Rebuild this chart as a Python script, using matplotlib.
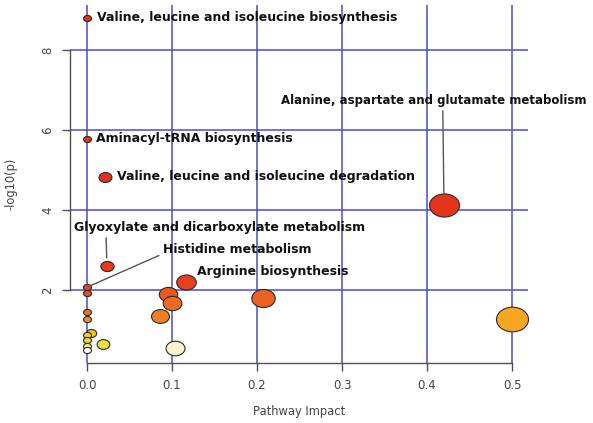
import numpy as np
import matplotlib
matplotlib.use("Agg")
import matplotlib.pyplot as plt
from matplotlib.path import Path
from matplotlib.colors import LinearSegmentedColormap

# Pathway topology results: impact (x) and -log10(p) (y)
impact = [0.0, 0.0, 0.021, 0.42, 0.0235, 0.116, 0.0, 0.0, 0.095, 0.207, 0.10,
          0.0, 0.086, 0.0, 0.50, 0.005, 0.0, 0.0, 0.019, 0.0, 0.104, 0.0]
neglogp = [8.80, 5.78, 4.83, 4.12, 2.60, 2.20, 2.07, 1.93, 1.90, 1.80, 1.67,
           1.45, 1.35, 1.28, 1.28, 0.93, 0.875, 0.75, 0.65, 0.60, 0.55, 0.50]

# Labelled pathways: index into the arrays above
label_names = [
    "Valine, leucine and isoleucine biosynthesis",
    "Aminacyl-tRNA biosynthesis",
    "Valine, leucine and isoleucine degradation",
    "Alanine, aspartate and glutamate metabolism",
    "Glyoxylate and dicarboxylate metabolism",
    "Histidine metabolism",
    "Arginine biosynthesis",
]
label_index = [0, 1, 2, 3, 4, 6, 5]

x_ticks = [0.0, 0.1, 0.2, 0.3, 0.4, 0.5]
y_ticks = [2, 4, 6, 8]

x = np.array(impact)
y = np.array(neglogp)
n = len(x)

# colour by significance rank (heat-style palette)
heat = LinearSegmentedColormap.from_list("heat", [
    (0.00, "#E22F1C"), (0.15, "#E3341C"), (0.30, "#E64A1E"),
    (0.45, "#EC6620"), (0.60, "#F08424"), (0.667, "#F5A623"),
    (0.714, "#F5C31B"), (0.80, "#F0DA1E"), (0.86, "#EDE040"),
    (0.905, "#F2EC9A"), (0.952, "#F8F5CC"), (1.00, "#FBFAEE")])
order = np.argsort(-y, kind="stable")
rank = np.empty(n)
rank[order] = np.arange(n)
colors = heat(rank / (n - 1))

# marker width grows with pathway impact
width_px = 8 + 34 * np.sqrt(x)
dpi = 100
sizes = (width_px * 72 / dpi) ** 2

# slightly wide ellipse marker
circ = Path.unit_circle()
verts = circ.vertices.copy()
verts[:, 1] /= 1.3
ellipse = Path(verts, circ.codes)

fig = plt.figure(figsize=(5.93, 4.23), dpi=dpi)
ax = fig.add_axes([70 / 593, 60 / 423, 458 / 593, 358 / 423])
ax.set_xlim(-0.02, 0.5188)
ax.set_ylim(0.175, 9.125)

grid_col = "#4B4BC6"
for xv in x_ticks:
    ax.axvline(xv, color=grid_col, lw=1.1, zorder=1)
for yv in y_ticks:
    ax.axhline(yv, color=grid_col, lw=1.1, zorder=1)

for i in order:
    ax.scatter(x[i], y[i], s=sizes[i], marker=ellipse, c=[colors[i]],
               edgecolors="#2a2a2a", linewidths=0.8, zorder=3)

# axes in R style: spines only across the tick range
for side in ("top", "right"):
    ax.spines[side].set_visible(False)
ax.spines["left"].set_bounds(min(y_ticks), max(y_ticks))
ax.spines["bottom"].set_bounds(min(x_ticks), max(x_ticks))
for side in ("left", "bottom"):
    ax.spines[side].set_color("#505050")
    ax.spines[side].set_linewidth(1.0)

ax.set_xticks(x_ticks)
ax.set_xticklabels([f"{v:.1f}" for v in x_ticks])
ax.set_yticks(y_ticks)
ax.set_yticklabels([str(v) for v in y_ticks])
ax.tick_params(axis="both", colors="#505050", labelcolor="#444444",
               labelsize=8.5, length=5.5, width=1.0)
ax.tick_params(axis="x", pad=6)
ax.tick_params(axis="y", pad=6)
for lab in ax.get_yticklabels():
    lab.set_rotation(90)
    lab.set_va("center")

ax.set_xlabel("Pathway Impact", fontsize=8.3, color="#444444")
ax.set_ylabel("-log10(p)", fontsize=8.3, color="#444444")
ax.xaxis.set_label_coords(0.5, -0.117)
ax.yaxis.set_label_coords(-0.114, 0.5)

txt = dict(fontsize=9, fontweight="bold", color="#111111", zorder=4,
           family="DejaVu Sans")
line = dict(arrowstyle="-", color="#555555", lw=1.0)

# plain labels to the right of the point
plain = {0: (7.2, 0), 1: (6.5, 0), 2: (8.6, 0), 6: (7.9, 7.2)}
for k, (dx, dy) in plain.items():
    i = label_index[k]
    ax.annotate(label_names[k], (x[i], y[i]), xytext=(dx, dy),
                textcoords="offset points", ha="left", va="center", **txt)

# labels with leader lines
i = label_index[3]
ax.annotate(label_names[3], (x[i], y[i]), xytext=(-7.5, 75.6),
            textcoords="offset points", ha="center", va="center",
            arrowprops=dict(**line, relpos=(0.53, 0.0), shrinkA=1, shrinkB=8),
            **{**txt, "fontsize": 8.5})
i = label_index[4]
ax.annotate(label_names[4], (x[i], y[i]), xytext=(-23.8, 28),
            textcoords="offset points", ha="left", va="center",
            arrowprops=dict(**line, relpos=(0.11, 0.0), shrinkA=1, shrinkB=5.8),
            **txt)
i = label_index[5]
ax.annotate(label_names[5], (x[i], y[i]), xytext=(54.7, 27.4),
            textcoords="offset points", ha="left", va="center",
            arrowprops=dict(**line, relpos=(0.0, 0.15), shrinkA=1, shrinkB=2.5),
            **txt)

fig.savefig("out.png", dpi=dpi)
